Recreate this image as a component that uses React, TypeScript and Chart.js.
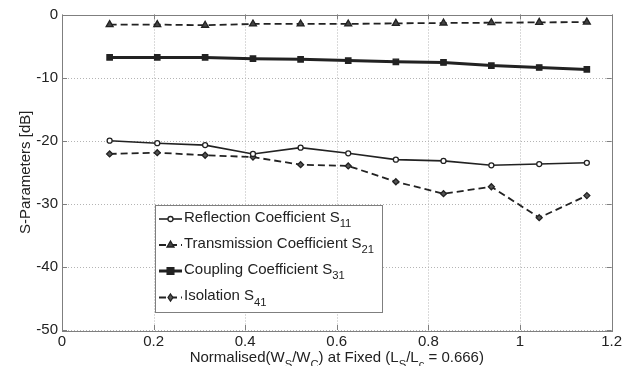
import React, { useEffect, useRef } from "react";
import { Chart, registerables } from "chart.js";

Chart.register(...registerables);

const xValues = [0.104, 0.208, 0.3125, 0.417, 0.521, 0.625, 0.729, 0.833, 0.9375, 1.042, 1.146];
const s11 = [-20.0, -20.4, -20.7, -22.1, -21.1, -22.0, -23.0, -23.2, -23.9, -23.7, -23.5];
const s21 = [-1.6, -1.6, -1.7, -1.5, -1.5, -1.5, -1.4, -1.35, -1.3, -1.25, -1.2];
const s31 = [-6.8, -6.8, -6.8, -7.0, -7.1, -7.3, -7.5, -7.6, -8.1, -8.4, -8.7];
const s41 = [-22.1, -21.9, -22.3, -22.6, -23.8, -24.0, -26.5, -28.4, -27.3, -32.2, -28.7];

const legendMain = ["Reflection Coefficient S", "Transmission Coefficient S", "Coupling Coefficient S", "Isolation S"];
const legendSub = ["11", "21", "31", "41"];
const yTitle = "S-Parameters [dB]";
const xTitleParts: [string, boolean][] = [
  ["Normalised(W", false], ["S", true], ["/W", false], ["C", true],
  [") at Fixed (L", false], ["S", true], ["/L", false], ["c", true], [" = 0.666)", false],
];

const FONT = "'Liberation Sans', Arial, sans-serif";
const INK = "#222";

const toPairs = (ys: number[]) => ys.map((y, i) => ({ x: xValues[i], y }));

function drawMarker(ctx: CanvasRenderingContext2D, style: string, x: number, y: number, r: number, fill: string) {
  ctx.save();
  ctx.setLineDash([]);
  ctx.fillStyle = fill;
  ctx.strokeStyle = INK;
  ctx.lineWidth = 1.3;
  ctx.beginPath();
  if (style === "circle") ctx.arc(x, y, r, 0, Math.PI * 2);
  else if (style === "triangle") { ctx.moveTo(x, y - r); ctx.lineTo(x + r * 0.87, y + r * 0.5); ctx.lineTo(x - r * 0.87, y + r * 0.5); ctx.closePath(); }
  else if (style === "rect") ctx.rect(x - r * 0.75, y - r * 0.75, r * 1.5, r * 1.5);
  else { ctx.moveTo(x, y - r); ctx.lineTo(x + r * 0.7, y); ctx.lineTo(x, y + r); ctx.lineTo(x - r * 0.7, y); ctx.closePath(); }
  ctx.fill();
  ctx.stroke();
  ctx.restore();
}

function drawParts(ctx: CanvasRenderingContext2D, parts: [string, boolean][], x: number, y: number, size: number) {
  let cx = x;
  for (const [t, sub] of parts) {
    ctx.font = `${sub ? size * 0.75 : size}px ${FONT}`;
    ctx.fillText(t, cx, sub ? y + size * 0.45 : y);
    cx += ctx.measureText(t).width;
  }
}
function partsWidth(ctx: CanvasRenderingContext2D, parts: [string, boolean][], size: number) {
  let w = 0;
  for (const [t, sub] of parts) {
    ctx.font = `${sub ? size * 0.75 : size}px ${FONT}`;
    w += ctx.measureText(t).width;
  }
  return w;
}

const legendStyles = [
  { style: "circle", dash: [] as number[], width: 1.6, r: 2.5, fill: "#fff" },
  { style: "triangle", dash: [7, 4], width: 1.8, r: 4, fill: "#444" },
  { style: "rect", dash: [] as number[], width: 3, r: 4.5, fill: INK },
  { style: "diamond", dash: [7, 4], width: 1.8, r: 3.5, fill: "#555" },
];

const gridPlugin = {
  id: "dotgrid",
  beforeDatasetsDraw(chart: any) {
    const { ctx, chartArea: a, scales } = chart;
    ctx.save();
    ctx.strokeStyle = "#b4b4b4";
    ctx.lineWidth = 1;
    ctx.setLineDash([1, 2]);
    for (const t of scales.y.ticks) {
      const py = Math.round(scales.y.getPixelForValue(t.value)) + 0.5;
      ctx.beginPath(); ctx.moveTo(a.left, py); ctx.lineTo(a.right, py); ctx.stroke();
    }
    for (const t of scales.x.ticks) {
      const px = Math.round(scales.x.getPixelForValue(t.value)) + 0.5;
      ctx.beginPath(); ctx.moveTo(px, a.top); ctx.lineTo(px, a.bottom); ctx.stroke();
    }
    ctx.restore();
  },
};

const overlay = {
  id: "overlay",
  afterDraw(chart: any) {
    const { ctx, chartArea: a, scales } = chart;
    ctx.save();
    ctx.strokeStyle = "#7f7f7f";
    ctx.lineWidth = 1;
    ctx.setLineDash([]);
    for (const t of scales.y.ticks) {
      const py = Math.round(scales.y.getPixelForValue(t.value)) + 0.5;
      ctx.beginPath(); ctx.moveTo(a.left, py); ctx.lineTo(a.left + 5, py); ctx.stroke();
      ctx.beginPath(); ctx.moveTo(a.right, py); ctx.lineTo(a.right - 5, py); ctx.stroke();
    }
    for (const t of scales.x.ticks) {
      const px = Math.round(scales.x.getPixelForValue(t.value)) + 0.5;
      ctx.beginPath(); ctx.moveTo(px, a.bottom); ctx.lineTo(px, a.bottom - 5); ctx.stroke();
      ctx.beginPath(); ctx.moveTo(px, a.top); ctx.lineTo(px, a.top + 5); ctx.stroke();
    }
    ctx.strokeRect(Math.round(a.left) + 0.5, Math.round(a.top) + 0.5, Math.round(a.right - a.left), Math.round(a.bottom - a.top));

    // legend
    const lx = 155.5, ly = 205.5, lw = 227, lh = 107;
    ctx.fillStyle = "#fff";
    ctx.fillRect(lx, ly, lw, lh);
    ctx.strokeStyle = "#7f7f7f";
    ctx.strokeRect(lx, ly, lw, lh);
    const rows = [217.5, 243.5, 269.5, 296];
    ctx.textBaseline = "middle";
    rows.forEach((ry, i) => {
      const s = legendStyles[i];
      ctx.save();
      ctx.strokeStyle = INK;
      ctx.lineWidth = s.width;
      ctx.setLineDash(s.dash);
      ctx.beginPath(); ctx.moveTo(159, ry + 1.5); ctx.lineTo(182, ry + 1.5); ctx.stroke();
      ctx.restore();
      drawMarker(ctx, s.style, 170.5, ry + 1.5, s.r, s.fill);
      ctx.fillStyle = INK;
      drawParts(ctx, [[legendMain[i], false], [legendSub[i], true]], 184, ry, 15);
    });

    // axis titles
    ctx.fillStyle = INK;
    ctx.textBaseline = "middle";
    const cx = (a.left + a.right) / 2;
    const w = partsWidth(ctx, xTitleParts, 15);
    drawParts(ctx, xTitleParts, cx - w / 2, 358, 15);
    ctx.save();
    ctx.translate(26, (a.top + a.bottom) / 2);
    ctx.rotate(-Math.PI / 2);
    ctx.font = `15px ${FONT}`;
    ctx.textAlign = "center";
    ctx.fillText(yTitle, 0, 0);
    ctx.restore();
    ctx.restore();
  },
};

export default function App() {
  const ref = useRef<HTMLCanvasElement>(null);
  useEffect(() => {
    if (!ref.current) return;
    const mk = (data: number[], s: any) => ({
      data: toPairs(data),
      borderColor: INK,
      borderWidth: s.width,
      borderDash: s.dash,
      pointStyle: s.style === "diamond" ? "rectRot" : s.style,
      pointRadius: s.style === "diamond" ? 3 : s.style === "rect" ? 3.8 : s.r,
      pointBackgroundColor: s.fill,
      pointBorderColor: INK,
      pointBorderWidth: 1.3,
      tension: 0,
      fill: false,
    });
    const chart = new Chart(ref.current, {
      type: "line",
      data: {
        datasets: [mk(s11, legendStyles[0]), mk(s21, legendStyles[1]), mk(s31, legendStyles[2]), mk(s41, legendStyles[3])],
      },
      options: {
        animation: false,
        responsive: false,
        maintainAspectRatio: false,
        layout: { padding: { top: 14.5, right: 8, left: 0, bottom: 0 } },
        plugins: { legend: { display: false }, tooltip: { enabled: false } },
        scales: {
          x: {
            type: "linear",
            min: 0,
            max: 1.2,
            ticks: {
              stepSize: 0.2,
              color: INK,
              font: { family: FONT, size: 15 },
              padding: 3,
              maxRotation: 0,
              callback: (v: any) => String(Number(Number(v).toFixed(1))),
            },
            grid: { display: false, drawTicks: false },
            border: { display: false },
            afterFit: (s: any) => { s.height = 36; },
          },
          y: {
            min: -50,
            max: 0,
            ticks: { stepSize: 10, color: INK, font: { family: FONT, size: 15 }, padding: 4 },
            grid: { display: false, drawTicks: false },
            border: { display: false },
            afterFit: (s: any) => { s.width = 62; },
          },
        },
      },
      plugins: [gridPlugin, overlay],
    });
    return () => chart.destroy();
  }, []);
  return (
    <div style={{ position: "absolute", left: 0, top: 0, width: 625, height: 366, background: "#fff" }}>
      <canvas ref={ref} width={625} height={366} style={{ width: 625, height: 366 }} />
    </div>
  );
}
